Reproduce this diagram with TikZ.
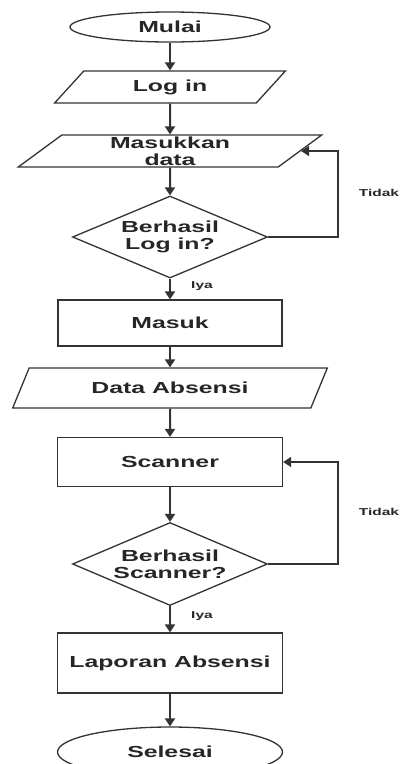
\documentclass[tikz,border=0pt]{standalone}
\usepackage{fontspec}
\newfontfamily\flowfont[FakeStretch=1.55]{Liberation Sans}
\usepackage{tikz}
\usetikzlibrary{arrows.meta}
\usetikzlibrary{shapes.geometric}

\begin{document}
\begin{tikzpicture}[x=1pt, y=-1pt]
	\useasboundingbox (0,0) rectangle (406,764);
	\begin{scope}[every node/.style = {draw=black!80, line width=1.3pt, inner sep=0pt,
		align=center, text=black!85, font=\flowfont\bfseries\fontsize{16}{17}\selectfont},
		terminal/.style = {ellipse},
		io/.style = {trapezium, trapezium stretches=true},
		proses/.style = {rectangle},
		cek/.style = {diamond, aspect=2.4},
		ket/.style = {draw=none, font=\flowfont\bfseries\fontsize{10}{12}\selectfont}]
		\node[terminal, minimum width=200pt, minimum height=30pt] (Mulai) at (170,27) {Mulai};
		\node[io, trapezium left angle=50, trapezium right angle=130,
			minimum width=232pt, minimum height=32pt] (Login) at (170,87) {Log in};
		\node[io, trapezium left angle=50, trapezium right angle=130,
			minimum width=304pt, minimum height=32pt] (Masukkan) at (170,151) {Masukkan\\data};
		\node[cek, minimum width=195pt, minimum height=82pt] (Cek1) at (170,237) {Berhasil\\Log in?};
		\node[proses, minimum width=224pt, minimum height=46pt] (Masuk) at (170,323) {Masuk};
		\node[io, trapezium left angle=52, trapezium right angle=128,
			minimum width=315pt, minimum height=40pt] (Data) at (170,388) {Data Absensi};
		\node[proses, minimum width=225pt, minimum height=49pt] (Scanner) at (170,462) {Scanner};
		\node[cek, minimum width=195pt, minimum height=83pt] (Cek2) at (170,564) {Berhasil\\Scanner?};
		\node[proses, minimum width=225pt, minimum height=60pt] (Laporan) at (170,663) {Laporan Absensi};
		\node[terminal, minimum width=225pt, minimum height=50pt] (Selesai) at (170,752) {Selesai};
		\node[ket] (Tidak1) at (379,193) {Tidak};
		\node[ket] (Iya1) at (202,286) {Iya};
		\node[ket] (Tidak2) at (379,512) {Tidak};
		\node[ket] (Iya2) at (202,616) {Iya};
	\end{scope}
	\coordinate (Belok1) at (338,237);
	\coordinate (Belok2) at (338,564);
	\begin{scope}[>={Triangle[length=8pt, width=10pt]},
			every edge/.style={draw=black!80, line width=2pt}]
		\path [->] (Mulai) edge (Login);
		\path [->] (Login) edge (Masukkan);
		\path [->] (Masukkan) edge (Cek1);
		\path [->] (Cek1) edge (Masuk);
		\path [->] (Masuk) edge (Data);
		\path [->] (Data) edge (Scanner);
		\path [->] (Scanner) edge (Cek2);
		\path [->] (Cek2) edge (Laporan);
		\path [->] (Laporan) edge (Selesai);
	\end{scope}
	\begin{scope}[>={Triangle[length=8pt, width=10pt]}, draw=black!80, line width=1.5pt]
		\draw [->] (Cek1.east) -- (Belok1) |- (Masukkan.east);
		\draw [->] (Cek2.east) -- (Belok2) |- (Scanner.east);
	\end{scope}
\end{tikzpicture}
\end{document}
